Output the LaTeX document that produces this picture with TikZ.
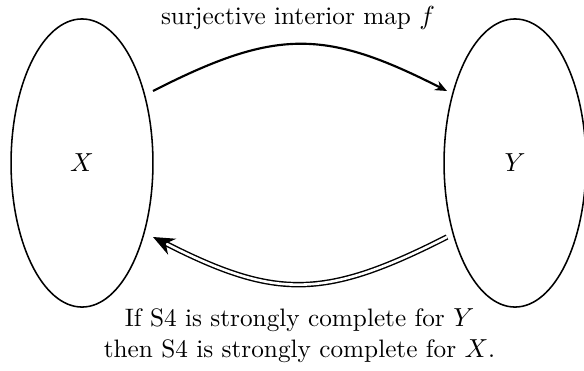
\documentclass[tikz,border=0pt]{standalone}
\usepackage{amsmath,amssymb}
\usetikzlibrary{arrows.meta,shapes.geometric}

\begin{document}
\begin{tikzpicture}[x=0.42pt,y=0.42pt,every node/.style={font=\fontsize{10.6}{12.7}\selectfont},
  setnode/.style={draw,ellipse,line width=0.65pt,minimum width=59.6pt,minimum height=121pt,inner sep=0pt},
  mapline/.style={line width=0.9pt,-{Stealth[length=5pt,width=4.2pt]}},
  implline/.style={double,line width=0.6pt,double distance=1.1pt,-{Stealth[length=9pt,width=7.5pt,inset=3pt]}}]
\useasboundingbox (0,0) rectangle (584,370);
\node[setnode] (X) at (82,207) {$X$};
\node[setnode] (Y) at (515,207) {$Y$};
\coordinate (ftail) at (153,279);
\coordinate (fhead) at (447,279);
\coordinate (ctail) at (447,133);
\coordinate (chead) at (153,133);
\draw[mapline] (ftail) to[out=27,in=153,looseness=1.2] (fhead);
\draw[implline] (ctail) to[out=207,in=333,looseness=1.2] (chead);
\node[anchor=base] (fname) at (298,345) {surjective interior map $f$};
\node[anchor=base] (claimY) at (299.5,43.3) {If S4 is strongly complete for $Y$};
\node[anchor=base] (claimX) at (299.5,13) {then S4 is strongly complete for $X$.};
\end{tikzpicture}
\end{document}
